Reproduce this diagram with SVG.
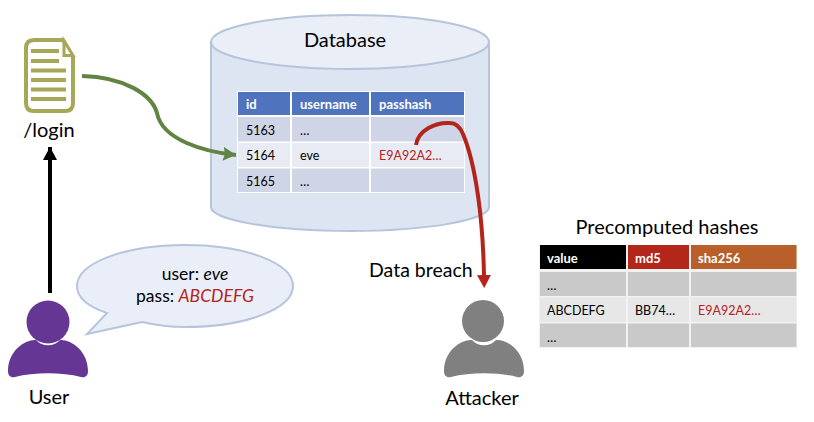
<svg xmlns="http://www.w3.org/2000/svg" width="814" height="422" viewBox="0 0 814 422">
<style>
text{font-family:Lato,"Liberation Sans",sans-serif;fill:#000}
.lbl{font-size:20px}
.cell{font-size:12.5px}
.hd{font-size:13px;font-weight:700;fill:#fff}
.red{fill:#b3241b}
.bub{font-size:17.5px}
.cyl{fill:#dee5f2;stroke:#b6c4dc;stroke-width:2}
.hair{fill:#e9eef7;stroke:#b6c4dc;stroke-width:2}
.line{fill:none;stroke:#a5a857;stroke-width:4;stroke-linecap:butt}
</style>
<defs>
<marker id="ga" markerUnits="userSpaceOnUse" markerWidth="16" markerHeight="16" refX="13" refY="7" orient="auto"><path d="M0 0L13 7L0 14L2 7Z" fill="#5f8444"/></marker>
<marker id="ra" markerUnits="userSpaceOnUse" markerWidth="16" markerHeight="16" refX="1" refY="7" orient="auto"><path d="M0 0L13 7L0 14Z" fill="#b3241b"/></marker>
<marker id="ka" markerUnits="userSpaceOnUse" markerWidth="16" markerHeight="16" refX="13" refY="7" orient="auto"><path d="M0 0L13 7L0 14Z" fill="#000"/></marker>
<path id="person" d="M-40 49C-40 28-22 17-12 18C-6 25 6 25 12 18C22 17 40 28 40 49C40 54 37 56 33 55C14 50-14 50-33 55C-37 56-40 54-40 49Z"/>
</defs>
<rect width="814" height="422" fill="#fff"/>
<g id="database">
<path class="cyl" d="M211 42V207C211 220 273 231 350 231C427 231 489 220 489 207V42Z"/>
<ellipse class="hair" cx="350" cy="42" rx="139" ry="27"/>
<text class="lbl" x="345" y="47" text-anchor="middle">Database</text>
<g id="db-table">
<rect x="237" y="91" width="228" height="102" fill="#fff"/>
<rect x="238" y="92" width="52" height="23" fill="#4f74bd"/><rect x="292" y="92" width="77" height="23" fill="#4f74bd"/><rect x="371" y="92" width="93" height="23" fill="#4f74bd"/>
<rect x="238" y="117" width="52" height="24.500" fill="#cfd5e7"/><rect x="292" y="117" width="77" height="24.500" fill="#cfd5e7"/><rect x="371" y="117" width="93" height="24.500" fill="#cfd5e7"/>
<rect x="238" y="143" width="52" height="24" fill="#e9ebf4"/><rect x="292" y="143" width="77" height="24" fill="#e9ebf4"/><rect x="371" y="143" width="93" height="24" fill="#e9ebf4"/>
<rect x="238" y="168.500" width="52" height="23.500" fill="#cfd5e7"/><rect x="292" y="168.500" width="77" height="23.500" fill="#cfd5e7"/><rect x="371" y="168.500" width="93" height="23.500" fill="#cfd5e7"/>
<text class="hd" x="246" y="108.500">id</text><text class="hd" x="300" y="108.500">username</text><text class="hd" x="379" y="108.500">passhash</text>
<text class="cell" x="246" y="135">5163</text><text class="cell" x="300" y="135">…</text>
<text class="cell" x="246" y="160">5164</text><text class="cell" x="300" y="160">eve</text><text class="cell red" x="379" y="160">E9A92A2…</text>
<text class="cell" x="246" y="186">5165</text><text class="cell" x="300" y="186">…</text>
</g>
</g>
<g id="login">
<path d="M34 40H63L73 57V103Q73 111 65 111H34Q26 111 26 103V48Q26 40 34 40Z" fill="#fff" stroke="#a5a857" stroke-width="4"/>
<path d="M64 41V55.500H73Z" fill="#fff" stroke="#a5a857" stroke-width="3"/>
<path class="line" d="M31 51H59M31 61H59M31 70.500H66M31 80H66M31 89.500H66M31 99H66"/>
<text class="lbl" x="49" y="137" text-anchor="middle">/login</text>
</g>
<g id="connectors">
<path d="M50 293V147" fill="none" stroke="#000" stroke-width="4" marker-end="url(#ka)"/>
<path d="M82 76C125 77 152 95 157 113C162 140 205 152 236 155" fill="none" stroke="#5f8444" stroke-width="4" marker-end="url(#ga)"/>
<path d="M416 145C418 130 436 122 450 123C456 123 460 127 463 134C476 165 483 220 484 276" fill="none" stroke="#b3241b" stroke-width="4" marker-end="url(#ra)"/>
</g>
<g id="bubble">
<path d="M107 313C86 306 77 297 77 286C77 263 125 245 185 245C245 245 293 263 293 286C293 309 245 327 185 327C168 327 155 325 142 322L87 334Z" fill="#eaeef8" stroke="#b6c4dc" stroke-width="2"/>
<text class="bub" x="195" y="280" text-anchor="middle">user: <tspan font-style="italic">eve</tspan></text>
<text class="bub" x="195" y="302" text-anchor="middle">pass: <tspan class="red" font-style="italic">ABCDEFG</tspan></text>
</g>
<g id="user" fill="#663695">
<circle cx="48" cy="322" r="21.500"/>
<use href="#person" x="48" y="322"/>
<text class="lbl" x="49" y="404" text-anchor="middle">User</text>
</g>
<g id="attacker" fill="#808080">
<circle cx="483" cy="321" r="21"/>
<use href="#person" x="484" y="322"/>
<text class="lbl" x="482" y="405" text-anchor="middle">Attacker</text>
</g>
<text id="breach" class="lbl" style="font-size:19.500px" x="369" y="277">Data breach</text>
<g id="hashes">
<text class="lbl" x="667" y="234" text-anchor="middle">Precomputed hashes</text>
<rect x="539" y="245" width="258" height="103" fill="#f2f2f2"/>
<rect x="540" y="245" width="86" height="24" fill="#000"/><rect x="628" y="245" width="61" height="24" fill="#b3261a"/><rect x="691" y="245" width="105.500" height="24" fill="#b85f2a"/>
<rect x="540" y="272" width="86" height="24" fill="#c9c9c9"/><rect x="628" y="272" width="61" height="24" fill="#c9c9c9"/><rect x="691" y="272" width="105.500" height="24" fill="#c9c9c9"/>
<rect x="540" y="297.500" width="86" height="24.500" fill="#e7e7e7"/><rect x="628" y="297.500" width="61" height="24.500" fill="#e7e7e7"/><rect x="691" y="297.500" width="105.500" height="24.500" fill="#e7e7e7"/>
<rect x="540" y="323.500" width="86" height="23.500" fill="#c9c9c9"/><rect x="628" y="323.500" width="61" height="23.500" fill="#c9c9c9"/><rect x="691" y="323.500" width="105.500" height="23.500" fill="#c9c9c9"/>
<text class="hd" x="547" y="263">value</text><text class="hd" x="635" y="263">md5</text><text class="hd" x="698" y="263">sha256</text>
<text class="cell" x="547" y="290">…</text>
<text class="cell" x="547" y="315">ABCDEFG</text><text class="cell" x="635" y="315">BB74…</text><text class="cell red" x="698" y="315">E9A92A2…</text>
<text class="cell" x="547" y="342">…</text>
</g>
</svg>
